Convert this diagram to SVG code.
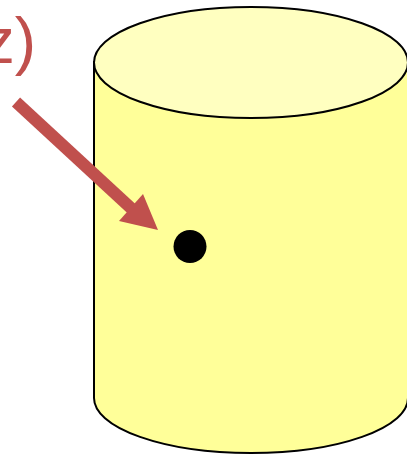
<svg xmlns="http://www.w3.org/2000/svg" width="407" height="458" viewBox="0 0 407 458">
<style>
.body{fill:#FFFF99;stroke:#000;stroke-width:2}
.top{fill:#FFFFC0;stroke:#000;stroke-width:2}
.lbl{font-family:"Liberation Sans",Arial,sans-serif;font-size:64px;fill:#C0504D}
</style>
<g id="cylinder">
<path class="body" d="M94,62 L94,398 A157,55 0 0 0 408,398 L408,62 Z"/>
<ellipse class="top" cx="251" cy="62.5" rx="157" ry="55.5"/>
</g>
<g id="point">
<circle cx="190" cy="246.5" r="16.5" fill="#000"/>
</g>
<g id="label">
<text class="lbl" x="36" y="63" text-anchor="end">z)</text>
</g>
<g id="connectors">
<line x1="16" y1="102" x2="133" y2="210" stroke="#C0504D" stroke-width="12"/>
<polygon points="158,230 119,221 143,194" fill="#C0504D"/>
</g>
</svg>
